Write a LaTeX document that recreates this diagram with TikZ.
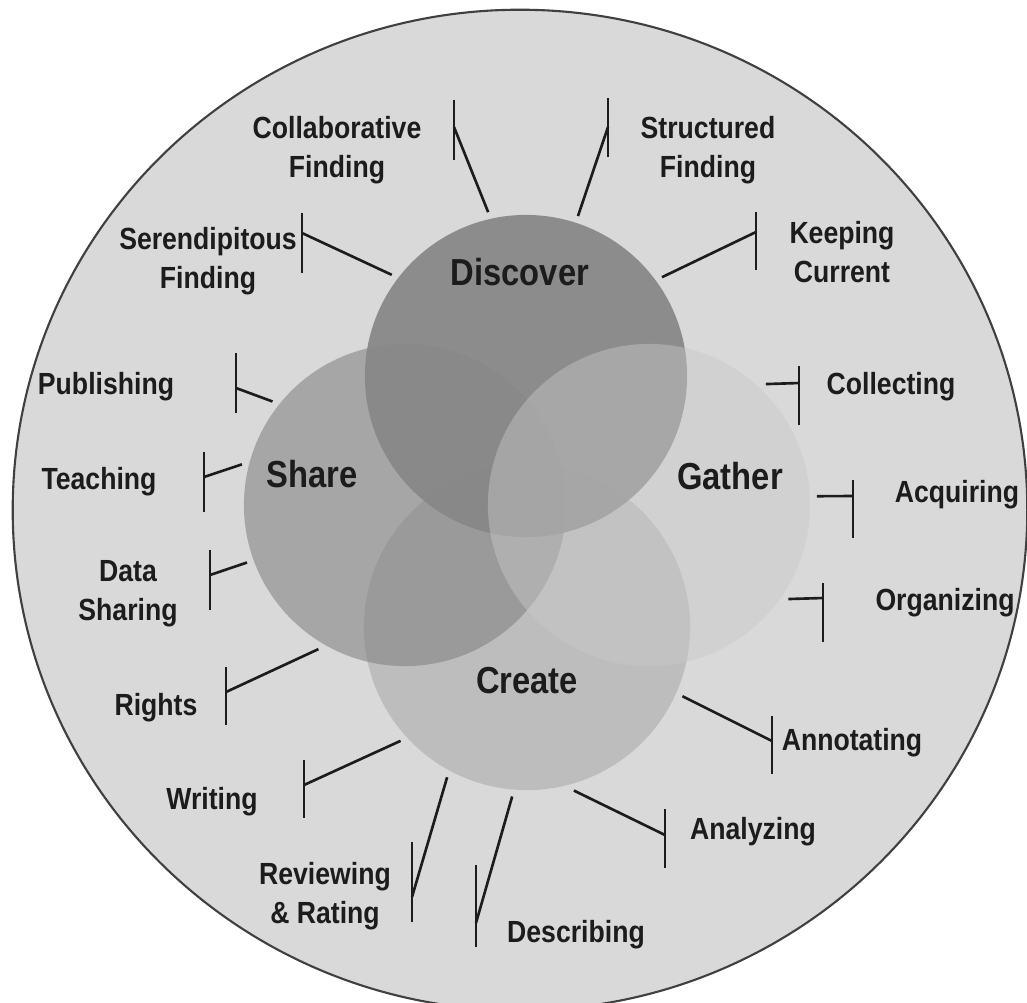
\documentclass[tikz,border=0pt]{standalone}
\usepackage{fontspec}
\setmainfont{Liberation Sans}[FakeStretch=0.87]
\usepackage{xcolor}

\definecolor{ringfill}{HTML}{D9D9D9}
\definecolor{ringline}{HTML}{404040}
\definecolor{inkdark}{HTML}{1C1C1C}

\begin{document}
\begin{tikzpicture}[
        x=0.01cm, y=-0.01cm,
        % the four phase circles
        phase/.style={circle, minimum size=3.22cm, inner sep=0pt, outer sep=2pt},
        % headings and activity labels
        phaselbl/.style={anchor=north, inner sep=0pt, text=inkdark, font=\fontsize{10.7}{13}\selectfont\bfseries},
        actlbl/.style={anchor=north, inner sep=0pt, align=center, text=inkdark, font=\fontsize{8.7}{11.1}\selectfont\bfseries},
        % connectors
        stem/.style={draw=inkdark, line width=0.75pt},
        bar/.style={draw=inkdark, line width=0.8pt}
    ]

    \useasboundingbox (0,0) rectangle (1027,1002);
    \fill[white] (0,0) rectangle (1027,1002);

    % Outer ring
    \draw[fill=ringfill, draw=ringline, line width=0.6pt] (520,510) ellipse [x radius=5.07cm, y radius=5.00cm];

    % Phase circles (Create lies under Discover)
    \node[phase, minimum size=3.26cm, fill=black!39, fill opacity=0.45] (create) at (527,627) {};
    \node[phase, fill=black!50, fill opacity=0.57] (share) at (405,505) {};
    \node[phase, fill=black!47, fill opacity=0.93] (discover) at (526,376) {};
    \node[phase, fill=black!21, fill opacity=0.45] (gather) at (649,505) {};

    % Headings
    \node[phaselbl] (discover-lbl) at (520,258) {Discover};
    \node[phaselbl] (share-lbl) at (312,460) {Share};
    \node[phaselbl] (gather-lbl) at (730,462) {Gather};
    \node[phaselbl] (create-lbl) at (527,667) {Create};

    % Discover activities
    \node[actlbl] (collab) at (337,116) {Collaborative\\Finding};
    \node[actlbl] (structured) at (708,116) {Structured\\Finding};
    \node[actlbl] (serendip) at (208,227) {Serendipitous\\Finding};
    \node[actlbl] (keeping) at (842,221) {Keeping\\Current};

    \coordinate (collab-j) at (454,127);
    \coordinate (structured-j) at (608,127);
    \coordinate (serendip-j) at (302,233);
    \coordinate (keeping-j) at (756,232);

    \draw[stem] (discover.103.5) -- (collab-j);
    \draw[bar] (collab-j) ++(0,-27) -- ++(0,60);
    \draw[stem] (discover.72.7) -- (structured-j);
    \draw[bar] (structured-j) ++(0,-29) -- ++(0,59);
    \draw[stem] (discover.143.5) -- (serendip-j);
    \draw[bar] (serendip-j) ++(0,-20) -- ++(0,60);
    \draw[stem] (discover.36) -- (keeping-j);
    \draw[bar] (keeping-j) ++(0,-20) -- ++(0,58);

    % Share activities
    \node[actlbl] (publishing) at (106,372) {Publishing};
    \node[actlbl] (teaching) at (99,467) {Teaching};
    \node[actlbl] (datashare) at (128,560) {Data\\Sharing};
    \node[actlbl] (rights) at (156,693) {Rights};

    \coordinate (publishing-j) at (236,388);
    \coordinate (teaching-j) at (204,477);
    \coordinate (datashare-j) at (210,575);
    \coordinate (rights-j) at (226,692);

    \draw[stem] (share.142) -- (publishing-j);
    \draw[bar] (publishing-j) ++(0,-35) -- ++(0,60);
    \draw[stem] (share.166) -- (teaching-j);
    \draw[bar] (teaching-j) ++(0,-25) -- ++(0,60);
    \draw[stem] (share.200) -- (datashare-j);
    \draw[bar] (datashare-j) ++(0,-25) -- ++(0,60);
    \draw[stem] (share.239) -- (rights-j);
    \draw[bar] (rights-j) ++(0,-25) -- ++(0,58);

    % Gather activities
    \node[actlbl] (collecting) at (891,372) {Collecting};
    \node[actlbl] (acquiring) at (957,480) {Acquiring};
    \node[actlbl] (organizing) at (945,588) {Organizing};

    \coordinate (collecting-j) at (799,383);
    \coordinate (acquiring-j) at (853,496);
    \coordinate (organizing-j) at (823,598);

    \draw[stem] (gather.46) -- (collecting-j);
    \draw[bar] (collecting-j) ++(0,-17) -- ++(0,59);
    \draw[stem] (gather.3) -- (acquiring-j);
    \draw[bar] (acquiring-j) ++(0,-16) -- ++(0,58);
    \draw[stem] (gather.-34) -- (organizing-j);
    \draw[bar] (organizing-j) ++(0,-15) -- ++(0,59);

    % Create activities
    \node[actlbl] (annotating) at (852,728) {Annotating};
    \node[actlbl] (analyzing) at (753,817) {Analyzing};
    \node[actlbl] (describing) at (576,920) {Describing};
    \node[actlbl] (reviewing) at (325,862) {Reviewing\\\& Rating};
    \node[actlbl] (writing) at (212,787) {Writing};

    \coordinate (annotating-j) at (772,741);
    \coordinate (analyzing-j) at (665,835);
    \coordinate (describing-j) at (476,923);
    \coordinate (reviewing-j) at (412,897);
    \coordinate (writing-j) at (304,785);

    \draw[stem] (create.-24.5) -- (annotating-j);
    \draw[bar] (annotating-j) ++(0,-25) -- ++(0,58);
    \draw[stem] (create.-74.2) -- (analyzing-j);
    \draw[bar] (analyzing-j) ++(0,-26) -- ++(0,59);
    \draw[stem] (create.-95.2) -- (describing-j);
    \draw[bar] (describing-j) ++(0,-58) -- ++(0,82);
    \draw[stem] (create.-118.4) -- (reviewing-j);
    \draw[bar] (reviewing-j) ++(0,-55) -- ++(0,80);
    \draw[stem] (create.-138.8) -- (writing-j);
    \draw[bar] (writing-j) ++(0,-25) -- ++(0,58);

\end{tikzpicture}
\end{document}
